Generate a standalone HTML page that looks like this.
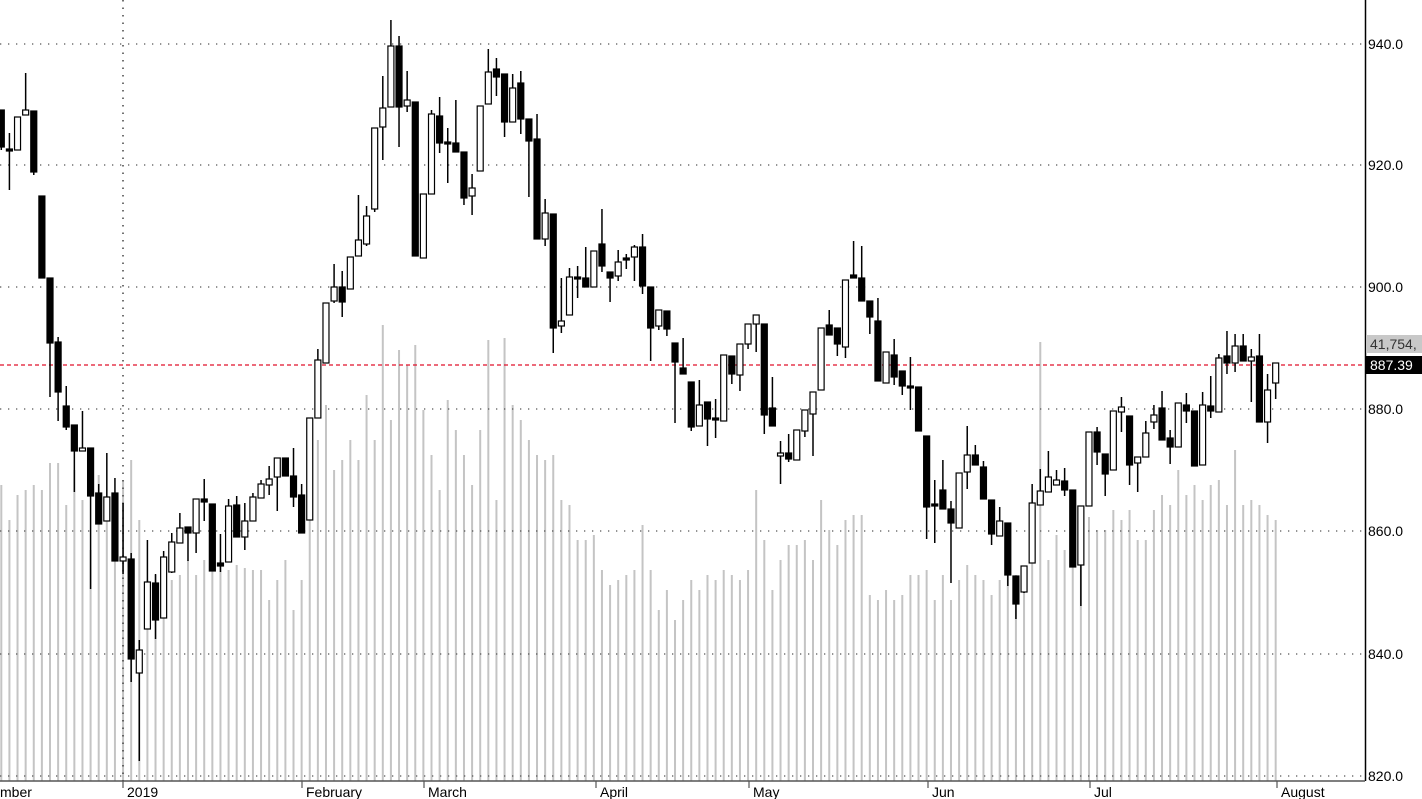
<!DOCTYPE html>
<html><head><meta charset="utf-8"><style>
html,body{margin:0;padding:0;background:#fff;}
svg{display:block;font-family:"Liberation Sans",sans-serif;}
</style></head><body>
<svg id="c" width="1422" height="799" xmlns="http://www.w3.org/2000/svg">
<rect width="1422" height="799" fill="#fff"/>
<g id="vol"></g>
<g id="grid"></g>
<line x1="0" y1="365" x2="1365" y2="365" stroke="#e0102a" stroke-width="1.2" stroke-dasharray="4 3"/>
<g id="cdl"></g>
<line x1="1365.5" y1="0" x2="1365.5" y2="781" stroke="#000" stroke-width="1.5"/>
<line x1="0" y1="781" x2="1365" y2="781" stroke="#555" stroke-width="1.5"/>
<g id="axis" font-size="14" fill="#000"></g>
<rect x="1366" y="335" width="56" height="18" fill="#c8c8c8"/>
<text x="1370" y="349" font-size="14" fill="#333">41,754,</text>
<rect x="1366" y="356" width="56" height="18" fill="#000"/>
<text x="1370" y="370" font-size="14" fill="#fff">887.39</text>
<g font-size="14" fill="#000">
<text x="0" y="797">mber</text>
<text x="127" y="797">2019</text>
<text x="306" y="797">February</text>
<text x="428" y="797">March</text>
<text x="600" y="797">April</text>
<text x="753" y="797">May</text>
<text x="932" y="797">Jun</text>
<text x="1094" y="797">Jul</text>
<text x="1281" y="797">August</text>
</g>
<g stroke="#555" stroke-width="1.2">
<line x1="123" y1="781" x2="123" y2="788"/><line x1="302" y1="781" x2="302" y2="788"/>
<line x1="424" y1="781" x2="424" y2="788"/><line x1="596" y1="781" x2="596" y2="788"/>
<line x1="749" y1="781" x2="749" y2="788"/><line x1="928" y1="781" x2="928" y2="788"/>
<line x1="1090" y1="781" x2="1090" y2="788"/><line x1="1277" y1="781" x2="1277" y2="788"/>
</g>
</svg>
<script>
var NS="http://www.w3.org/2000/svg";
function el(p,t,a){var e=document.createElementNS(NS,t);for(var k in a)e.setAttribute(k,a[k]);p.appendChild(e);return e;}
var D=[[110,147,110,150,0],[149,151,133,190,0],[117,150,117,150,1],[110,115,73,115,1],[111,172,111,175,0],[196,278,196,278,0],[278,343,278,397,0],[342,392,337,421,0],[406,427,386,430,0],[425,451,425,492,0],
[448,451,411,451,1],[448,496,448,589,0],[493,524,484,524,0],[497,521,453,521,1],[493,561,478,561,0],[557,561,503,574,1],[559,659,553,682,0],[650,673,640,761,1],[582,629,540,629,1],[583,620,574,639,0],
[557,618,551,618,1],[542,572,533,573,1],[528,543,513,543,1],[527,533,527,561,0],[499,533,499,553,1],[499,502,479,521,0],[504,571,504,571,0],[563,566,534,572,0],[506,562,499,562,1],[505,537,496,537,0],
[521,537,503,550,1],[497,521,493,521,1],[484,498,480,498,1],[479,485,466,495,1],[458,477,458,511,1],[458,476,458,476,0],[476,497,448,507,0],[495,533,484,533,0],[418,520,418,520,1],[360,418,349,418,1],
[303,363,303,363,1],[287,301,264,303,1],[287,302,271,317,0],[257,289,257,289,1],[240,256,195,256,1],[216,244,206,246,1],[128,209,128,212,1],[108,127,76,160,1],[46,107,20,107,1],[46,107,36,147,0],
[100,106,71,112,1],[102,256,102,256,0],[194,258,194,258,1],[114,194,110,194,1],[116,143,97,153,0],[142,144,128,183,0],[143,152,100,152,0],[152,198,152,205,0],[188,196,174,215,1],[106,171,106,171,1],
[72,104,49,104,1],[69,77,58,96,0],[74,122,74,137,0],[88,122,74,122,1],[83,119,71,134,0],[119,141,119,197,0],[139,239,114,239,0],[213,239,199,246,1],[214,328,214,353,0],[321,326,278,333,1],
[277,315,268,315,1],[277,279,266,298,0],[278,287,247,287,0],[251,287,251,287,1],[244,266,209,272,0],[272,278,272,302,0],[262,276,250,281,1],[258,260,254,269,0],[247,257,245,281,1],[247,286,234,294,0],
[287,328,287,361,0],[310,326,310,330,1],[311,329,311,336,0],[343,362,343,423,0],[368,374,338,374,0],[382,427,382,431,0],[405,426,380,426,1],[402,419,402,446,0],[418,420,399,438,0],[355,421,355,421,1],
[356,374,356,384,0],[344,375,344,391,1],[324,344,324,349,1],[315,324,315,352,1],[324,415,324,434,0],[408,426,377,426,0],[453,456,441,484,1],[453,459,434,462,0],[430,460,430,460,1],[410,431,410,437,1],
[392,414,392,456,1],[328,390,328,390,1],[325,335,310,335,0],[328,344,328,356,0],[280,347,280,358,1],[275,278,241,278,0],[278,301,246,301,0],[301,317,301,334,0],[321,381,298,381,0],[352,383,352,383,1],
[355,377,339,385,0],[371,386,371,395,0],[386,388,357,410,0],[387,431,387,431,0],[436,507,436,539,0],[504,506,480,543,0],[490,509,460,509,0],[509,523,501,583,0],[473,528,473,528,1],[455,472,426,489,1],
[455,465,445,465,0],[467,499,461,499,0],[500,534,500,545,0],[521,536,507,536,1],[523,575,523,586,0],[576,604,576,619,0],[566,592,566,593,1],[503,563,484,563,1],[491,505,469,505,1],[477,492,451,492,1],
[480,485,470,485,1],[481,490,468,496,0],[490,567,490,567,0],[506,565,506,606,1],[432,506,432,506,1],[432,452,427,465,0],[454,474,454,496,0],[411,470,411,470,1],[407,412,397,432,1],[416,465,416,485,0],
[457,463,457,492,1],[433,457,421,457,1],[415,422,405,429,1],[408,440,391,440,0],[438,447,430,464,0],[403,447,403,447,1],[405,411,393,423,0],[411,466,411,466,0],[405,465,392,465,1],[406,411,376,418,0],
[358,412,354,412,1],[356,363,331,374,0],[346,363,334,372,1],[346,361,334,361,0],[357,361,349,402,1],[356,422,334,422,0],[390,422,374,443,1],[363,383,363,399,1]];
var V=[485,520,495,490,485,490,463,463,505,470,500,550,475,505,530,480,460,520,580,575,560,580,575,560,575,560,565,560,570,565,568,570,570,600,580,560,610,580,520,440,405,470,460,440,460,395,440,325,420,350,365,345,410,455,490,400,430,455,485,430,340,500,338,405,420,440,455,460,455,500,505,540,540,535,570,585,580,575,570,525,570,610,590,620,600,580,590,575,580,570,575,580,570,490,540,590,560,545,545,540,560,500,530,545,520,515,515,595,600,590,600,595,575,575,570,600,575,600,580,565,575,580,595,580,555,575,580,550,342,560,535,550,530,520,517,530,530,510,520,510,540,540,510,495,505,470,495,485,500,485,480,505,450,505,500,505,515,520];
var vol=document.getElementById('vol'),cdl=document.getElementById('cdl'),grid=document.getElementById('grid'),ax=document.getElementById('axis');
function X(i){return 1.3+8.117*i;}
for(var i=0;i<V.length;i++){el(vol,'rect',{x:X(i)-1,y:V[i],width:2,height:781-V[i],fill:'#c4c4c4'});}
var lv=[[940,44],[920,165],[900,287],[880,409],[860,531],[840,654],[820,776]];
lv.forEach(function(g){el(grid,'line',{x1:0,y1:g[1],x2:1365,y2:g[1],stroke:'#555','stroke-width':1.3,'stroke-dasharray':'1.3 6.7'});
var t=el(ax,'text',{x:1368,y:g[1]+5});t.textContent=g[0].toFixed(1);});
el(grid,'line',{x1:123,y1:0,x2:123,y2:781,stroke:'#444','stroke-width':1.5,'stroke-dasharray':'1.5 6'});
D.forEach(function(d,i){var x=X(i);
el(cdl,'line',{x1:x,y1:d[2],x2:x,y2:d[3],stroke:'#000','stroke-width':1.5});
var h=Math.max(d[1]-d[0],2);
el(cdl,'rect',{x:x-3,y:d[0],width:6,height:h,fill:d[4]?'#fff':'#000',stroke:'#000','stroke-width':1.2});});
</script>
</body></html>
